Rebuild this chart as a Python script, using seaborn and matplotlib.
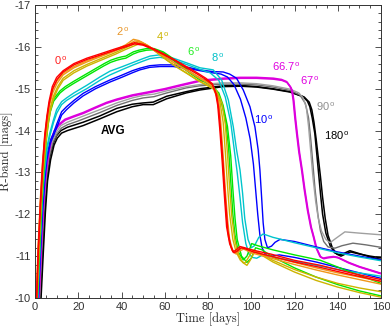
import matplotlib
matplotlib.use("Agg")
import matplotlib.pyplot as plt
import pandas as pd
import seaborn as sns
from matplotlib.ticker import MultipleLocator

# ---------------- data ----------------
red_a_t = [0.7, 1.5, 2.5, 3.5, 4.5, 5.5, 6.5, 8, 10, 13, 18, 24, 30, 37, 42, 46, 50, 55, 60, 65, 70, 75, 79, 82, 83.5, 84.5, 85.5, 86.5, 87.5, 88.6, 90, 91.5, 93, 94.8, 97, 101, 109, 120, 132, 146, 160]
red_a_m = [-10, -11.2, -12.3, -13.2, -13.9, -14.35, -14.7, -15.05, -15.27, -15.43, -15.6, -15.73, -15.83, -15.95, -16.03, -16.1, -16.06, -15.95, -15.82, -15.68, -15.53, -15.38, -15.25, -15.12, -14.9, -14.6, -14.0, -13.3, -12.5, -11.7, -11.3, -11.1, -11.15, -11.23, -11.2, -11.14, -11.05, -10.9, -10.78, -10.6, -10.44]
red_b_t = [0.8, 1.6, 2.6, 3.6, 4.6, 5.6, 6.6, 8.2, 10.2, 13, 18, 24, 30, 37, 42, 46, 50, 55, 60, 65, 70, 75, 79, 82, 84, 85, 86, 87, 88, 89.2, 90.5, 92, 93.5, 95.3, 97.5, 101, 109, 120, 132, 146, 160]
red_b_m = [-10, -11.15, -12.25, -13.15, -13.85, -14.3, -14.65, -15.0, -15.22, -15.4, -15.57, -15.7, -15.8, -15.92, -16.0, -16.07, -16.04, -15.93, -15.8, -15.66, -15.5, -15.35, -15.22, -15.1, -14.85, -14.5, -13.9, -13.2, -12.4, -11.6, -11.25, -11.08, -11.12, -11.2, -11.17, -11.1, -11.0, -10.86, -10.73, -10.56, -10.4]

orange_a_t = [0.6, 1.4, 2.4, 3.4, 4.5, 5.5, 6.5, 8, 10, 13, 18, 24, 30, 37, 42, 45.5, 48, 52, 56, 60, 65, 70, 75, 79, 82, 84.5, 85.5, 86.5, 87.5, 88.5, 89.5, 91, 92.5, 94, 96, 100, 110, 120, 130, 140, 150, 160]
orange_a_m = [-10, -11.2, -12.3, -13.2, -13.85, -14.3, -14.62, -14.95, -15.18, -15.37, -15.53, -15.67, -15.78, -15.92, -16.05, -16.18, -16.15, -16.04, -15.9, -15.77, -15.6, -15.45, -15.3, -15.18, -15.06, -14.75, -14.2, -13.5, -12.7, -11.95, -11.45, -11.15, -11.08, -11.15, -11.2, -11.12, -10.98, -10.85, -10.72, -10.6, -10.5, -10.39]
orange_b_t = [0.7, 1.5, 2.5, 3.5, 4.6, 5.6, 6.6, 8.2, 10.2, 13, 18, 24, 30, 37, 42, 46, 49, 53, 57, 61, 66, 71, 75, 79, 82.5, 85, 86, 87, 88, 89, 90, 91.5, 93, 94.5, 96.5, 100, 110, 120, 130, 140, 150, 160]
orange_b_m = [-10, -11.15, -12.25, -13.15, -13.8, -14.25, -14.58, -14.9, -15.13, -15.33, -15.5, -15.64, -15.76, -15.9, -16.02, -16.14, -16.12, -16.0, -15.87, -15.73, -15.56, -15.41, -15.28, -15.16, -15.04, -14.7, -14.15, -13.4, -12.6, -11.9, -11.4, -11.12, -11.05, -11.12, -11.17, -11.08, -10.94, -10.8, -10.67, -10.55, -10.44, -10.33]

yellow_a_t = [0.9, 1.8, 2.8, 3.8, 5, 6, 7, 8.5, 10.5, 13, 18, 24, 30, 37, 42, 47.8, 51, 55, 60, 65, 70, 74.7, 79, 83, 85.5, 87, 88, 89, 90, 91.5, 93, 95, 97, 98.5, 100.8, 103, 110, 120, 130, 140, 150, 160]
yellow_a_m = [-10, -11.2, -12.3, -13.1, -13.8, -14.22, -14.52, -14.82, -15.05, -15.25, -15.43, -15.58, -15.71, -15.86, -15.98, -16.12, -16.06, -15.92, -15.72, -15.54, -15.38, -15.22, -15.1, -14.98, -14.7, -14.2, -13.5, -12.7, -12.0, -11.4, -11.1, -10.9, -10.83, -10.95, -11.15, -11.1, -10.9, -10.68, -10.5, -10.35, -10.24, -10.15]
yellow_b_t = [1.0, 1.9, 2.9, 3.9, 5.1, 6.1, 7.1, 8.6, 10.6, 13, 18, 24, 30, 37, 42, 48.5, 52, 56, 61, 66, 71, 75.5, 80, 84, 86.5, 88, 89, 90, 91, 92.5, 94, 96, 98, 99.5, 101.5, 104, 110, 120, 130, 140, 150, 160]
yellow_b_m = [-10, -11.15, -12.25, -13.05, -13.75, -14.17, -14.47, -14.77, -15.0, -15.2, -15.38, -15.54, -15.67, -15.82, -15.94, -16.08, -16.02, -15.88, -15.68, -15.5, -15.34, -15.19, -15.07, -14.95, -14.65, -14.15, -13.45, -12.65, -11.95, -11.35, -11.05, -10.85, -10.78, -10.9, -11.1, -11.05, -10.86, -10.62, -10.42, -10.26, -10.13, -10.02]

green_a_t = [1.0, 2, 3, 4, 5, 6, 7, 8.5, 11.6, 14, 17.7, 22, 27, 32, 35, 37.8, 40, 42, 45.5, 48, 51.6, 55, 59.3, 63, 67, 71.7, 76, 80.9, 84, 86, 88, 89.5, 90.5, 91.5, 92.5, 94, 96.3, 98, 100.2, 103, 110, 120, 132, 146, 160]
green_a_m = [-10, -11.2, -12.3, -13.1, -13.75, -14.2, -14.5, -14.75, -14.95, -15.05, -15.17, -15.3, -15.45, -15.6, -15.68, -15.73, -15.76, -15.78, -15.88, -15.92, -15.96, -15.96, -15.88, -15.75, -15.58, -15.4, -15.26, -15.13, -14.95, -14.7, -14.3, -13.6, -12.8, -12.0, -11.5, -11.1, -10.91, -11.0, -11.3, -11.25, -11.15, -11.03, -10.9, -10.62, -10.35]
green_b_t = [1.1, 2.1, 3.1, 4.1, 5.1, 6.1, 7.1, 8.6, 11.6, 14, 17.7, 22, 27, 32, 35, 37.8, 40, 42, 45.5, 48, 51.6, 55, 59.3, 63, 67, 71.7, 76, 80.9, 85, 87, 89, 90.5, 91.5, 92.5, 93.5, 95.5, 98, 100, 102, 105, 110, 120, 130, 140, 150, 160]
green_b_m = [-10, -11.15, -12.25, -13.05, -13.7, -14.15, -14.45, -14.7, -14.9, -15.0, -15.12, -15.25, -15.4, -15.55, -15.63, -15.68, -15.71, -15.73, -15.83, -15.88, -15.92, -15.93, -15.85, -15.72, -15.55, -15.37, -15.22, -15.1, -14.9, -14.6, -14.1, -13.4, -12.6, -11.9, -11.4, -11.0, -10.85, -10.95, -11.2, -11.15, -10.98, -10.72, -10.5, -10.32, -10.17, -10.05]

cyan_a_t = [1.2, 2.2, 3.2, 4.2, 5.5, 6.9, 8.5, 10, 12.3, 14.6, 18, 23.9, 30, 34.7, 40, 45.5, 50, 53.2, 57.8, 63.9, 70, 76.3, 82.4, 86.3, 89.4, 91.7, 93.2, 94.8, 96, 97, 98.5, 100, 101.5, 103.5, 105.5, 110, 120, 130, 140, 150, 160]
cyan_a_m = [-10, -11.2, -12.3, -13.0, -13.6, -13.95, -14.25, -14.5, -14.69, -14.78, -14.9, -15.08, -15.28, -15.42, -15.52, -15.63, -15.72, -15.78, -15.81, -15.73, -15.62, -15.5, -15.45, -15.21, -14.73, -14.09, -13.54, -13.06, -12.5, -11.9, -11.4, -11.2, -11.25, -11.45, -11.53, -11.45, -11.32, -11.2, -11.08, -10.98, -10.89]
cyan_b_t = [1.3, 2.3, 3.3, 4.3, 5.6, 7, 8.6, 10.1, 12.3, 14.6, 18, 23.9, 30, 34.7, 40, 45.5, 50, 53.2, 57.8, 63.9, 70, 76.3, 81, 85, 88, 90.5, 92, 93.5, 94.8, 96, 97.5, 99, 100.5, 102.5, 105, 110, 120, 130, 140, 150, 160]
cyan_b_m = [-10, -11.15, -12.25, -12.95, -13.55, -13.9, -14.2, -14.42, -14.62, -14.72, -14.83, -15.0, -15.2, -15.33, -15.45, -15.57, -15.66, -15.72, -15.75, -15.69, -15.58, -15.46, -15.38, -15.2, -14.8, -14.2, -13.6, -13.0, -12.4, -11.8, -11.3, -11.05, -10.97, -10.95, -11.02, -10.98, -10.88, -10.78, -10.68, -10.6, -10.52]

blue_a_t = [1.5, 2.5, 3.5, 4.5, 5.4, 7, 8.5, 10, 12.3, 14.6, 18, 22.3, 28, 34.7, 40, 45, 48.5, 53, 57.8, 63.9, 70, 76.3, 82, 87, 90, 93.2, 96.3, 99.4, 101.7, 103.2, 104, 104.8, 105.5, 106.3, 107.5, 109.4, 111, 113.3, 120, 130, 140, 150, 160]
blue_a_m = [-10, -11.2, -12.2, -12.9, -13.38, -13.75, -13.93, -14.15, -14.45, -14.57, -14.72, -14.89, -15.05, -15.21, -15.32, -15.43, -15.49, -15.55, -15.57, -15.57, -15.52, -15.45, -15.41, -15.4, -15.35, -15.25, -14.97, -14.57, -14.09, -13.54, -13.06, -12.4, -11.8, -11.4, -11.2, -11.24, -11.33, -11.4, -11.35, -11.22, -11.1, -11.0, -10.91]
blue_b_t = [1.6, 2.6, 3.6, 4.6, 5.5, 7.1, 8.6, 10.1, 12.3, 14.6, 18, 22.3, 28, 34.7, 40, 45, 48.5, 53, 57.8, 63.9, 70, 76.3, 82, 86, 89, 92, 95, 97.5, 99.5, 101, 102, 103, 104, 105, 106.5, 108, 109.5, 113, 120, 130, 140, 150, 160]
blue_b_m = [-10, -11.15, -12.15, -12.85, -13.3, -13.7, -13.88, -14.08, -14.37, -14.5, -14.66, -14.83, -15.0, -15.16, -15.27, -15.38, -15.45, -15.51, -15.53, -15.53, -15.49, -15.43, -15.38, -15.35, -15.28, -15.1, -14.75, -14.3, -13.8, -13.2, -12.6, -12.0, -11.5, -11.2, -11.05, -10.99, -11.0, -11.03, -10.97, -10.86, -10.73, -10.6, -10.47]

mag_a_t = [1.8, 2.8, 3.8, 4.8, 6, 7.5, 9, 11, 13.9, 18, 22.3, 28, 33, 37.8, 45, 53.2, 60, 68, 76.3, 87, 95, 102.5, 110.2, 114, 116.3, 118, 118.7, 119.4, 120.2, 121, 122, 123.3, 124.5, 126, 127.5, 128.7, 130, 131.8, 133.3, 135, 138, 140, 145, 150, 155, 160]
mag_a_m = [-10, -11.2, -12.2, -12.9, -13.4, -13.8, -14.0, -14.15, -14.27, -14.35, -14.43, -14.56, -14.67, -14.75, -14.85, -14.93, -15.0, -15.1, -15.2, -15.25, -15.27, -15.27, -15.25, -15.22, -15.17, -15.05, -14.97, -14.73, -14.3, -13.93, -13.5, -13.06, -12.6, -12.1, -11.7, -11.47, -11.2, -10.99, -10.95, -10.97, -10.99, -10.97, -10.85, -10.75, -10.67, -10.59]
mag_b_t = [1.9, 2.9, 3.9, 4.9, 6.1, 7.6, 9.1, 11.1, 14, 18, 22.3, 28, 33, 37.8, 45, 53.2, 60, 68, 76.3, 87, 95, 102.5, 110.2, 114.2, 116.6, 118.3, 119, 119.7, 120.5, 121.3, 122.3, 123.6, 124.8, 126.3, 127.8, 129, 130.3, 132.1, 133.6, 135.3, 138.3, 140.3, 145, 150, 155, 160]
mag_b_m = [-10, -11.18, -12.18, -12.88, -13.38, -13.78, -13.98, -14.13, -14.25, -14.33, -14.41, -14.54, -14.65, -14.73, -14.83, -14.91, -14.98, -15.08, -15.18, -15.23, -15.25, -15.25, -15.23, -15.2, -15.15, -15.03, -14.95, -14.71, -14.28, -13.91, -13.48, -13.04, -12.58, -12.08, -11.68, -11.45, -11.18, -10.98, -10.94, -10.96, -10.98, -10.96, -10.84, -10.74, -10.66, -10.58]

gray_a_t = [2, 3, 4, 5, 6.3, 8, 10, 12, 15, 20, 25, 30, 37.8, 45, 50, 55, 61, 70, 76.3, 87, 95, 102.5, 110, 117.9, 122, 124, 125.5, 126.5, 127.5, 128.5, 129.8, 131, 132.5, 134.5, 136.4, 139, 143.3, 150, 160]
gray_a_m = [-10, -11.2, -12.2, -12.9, -13.4, -13.75, -13.97, -14.12, -14.2, -14.3, -14.4, -14.5, -14.66, -14.78, -14.84, -14.87, -14.95, -15.05, -15.1, -15.14, -15.14, -15.12, -15.07, -14.99, -14.9, -14.78, -14.55, -14.1, -13.5, -12.9, -12.3, -11.9, -11.6, -11.4, -11.32, -11.42, -11.58, -11.55, -11.51]
gray_b_t = [2.2, 3.2, 4.2, 5.2, 6.5, 8.2, 10.2, 12.2, 15, 20, 25, 30, 37.8, 45, 50, 55, 61, 70, 76.3, 87, 95, 102.5, 110, 117.9, 122.5, 125, 126.5, 127.5, 128.5, 129.5, 130.8, 132, 133.5, 135.5, 138.7, 142, 147, 153, 160]
gray_b_m = [-10, -11.15, -12.15, -12.85, -13.35, -13.7, -13.92, -14.06, -14.14, -14.23, -14.33, -14.43, -14.6, -14.72, -14.78, -14.81, -14.9, -15.02, -15.07, -15.11, -15.11, -15.09, -15.04, -14.96, -14.85, -14.65, -14.3, -13.8, -13.2, -12.6, -12.0, -11.6, -11.35, -11.22, -11.19, -11.25, -11.31, -11.27, -11.21]

black_a_t = [2.5, 3.5, 4.5, 5.5, 6.9, 8.5, 10, 12, 15, 22.3, 30, 37.8, 45, 50, 54.7, 60.9, 70, 76.3, 87, 95, 102.5, 110, 117.9, 124, 126, 127.1, 128.2, 129.4, 130.2, 131, 132, 133, 134.5, 136.5, 138.5, 141, 143, 145.6, 150, 155, 160]
black_a_m = [-10, -11.1, -12.1, -12.85, -13.38, -13.7, -13.88, -14.0, -14.08, -14.2, -14.35, -14.53, -14.63, -14.66, -14.68, -14.82, -14.93, -15.0, -15.07, -15.08, -15.05, -15.0, -14.93, -14.81, -14.7, -14.57, -14.3, -13.93, -13.5, -13.06, -12.5, -12.0, -11.55, -11.25, -11.08, -11.03, -11.07, -11.13, -11.06, -10.98, -10.92]
black_b_t = [2.8, 3.8, 4.8, 5.8, 7.2, 8.8, 10.3, 12.3, 15, 22.3, 30, 37.8, 45, 50, 54.7, 60.9, 70, 76.3, 87, 95, 102.5, 110, 117.9, 124.5, 126.8, 128, 129, 130, 131, 132, 133, 134.2, 135.5, 137.5, 139.5, 141.5, 143.5, 146, 150, 155, 160]
black_b_m = [-10, -11.05, -12.05, -12.8, -13.3, -13.65, -13.82, -13.94, -14.0, -14.12, -14.28, -14.45, -14.57, -14.62, -14.62, -14.76, -14.9, -14.97, -15.05, -15.06, -15.04, -14.99, -14.92, -14.8, -14.68, -14.5, -14.2, -13.8, -13.35, -12.9, -12.4, -11.9, -11.5, -11.2, -11.05, -11.0, -11.05, -11.1, -11.05, -11.0, -10.96]

label_texts = ["0", "2", "4", "6", "8", "10", "66.7", "67", "90", "180"]
label_t = [12.0, 40.7, 59.2, 73.5, 84.6, 105.9, 116.3, 127.0, 134.5, 139.6]
label_m = [-15.66, -16.36, -16.24, -15.88, -15.73, -14.25, -15.53, -15.2, -14.56, -13.87]
label_colors = ["#ff2020", "#e8962a", "#ccb400", "#22ee22", "#00c0c8", "#0000ff",
                "#e000e0", "#e000e0", "#909090", "#000000"]

# ---------------- styling ----------------
sns.set_style("ticks")
plt.rcParams['font.family'] = ['Liberation Sans', 'DejaVu Sans']
plt.rcParams['axes.unicode_minus'] = False
plt.rcParams['mathtext.fontset'] = 'custom'
plt.rcParams['mathtext.rm'] = 'Liberation Sans'
plt.rcParams['mathtext.it'] = 'Liberation Sans'

fig = plt.figure(figsize=(3.9, 3.28), dpi=100)
ax = fig.add_axes([35/390, 1-298/328, (381-35)/390, (298-5)/328])

curves = [
    (black_b_t, black_b_m, "#000000", 1.1),
    (black_a_t, black_a_m, "#000000", 1.1),
    (gray_b_t, gray_b_m, "#6e6e6e", 1.0),
    (gray_a_t, gray_a_m, "#a0a0a0", 1.0),
    (mag_b_t, mag_b_m, "#dd00dd", 1.2),
    (mag_a_t, mag_a_m, "#dd00dd", 1.2),
    (blue_b_t, blue_b_m, "#0000ff", 1.0),
    (blue_a_t, blue_a_m, "#0000ff", 1.0),
    (cyan_b_t, cyan_b_m, "#00c5cd", 1.0),
    (cyan_a_t, cyan_a_m, "#00c5cd", 1.0),
    (green_b_t, green_b_m, "#00e600", 1.0),
    (green_a_t, green_a_m, "#00e600", 1.0),
    (yellow_b_t, yellow_b_m, "#cdb400", 1.0),
    (yellow_a_t, yellow_a_m, "#cdb400", 1.0),
    (orange_b_t, orange_b_m, "#f0961a", 1.0),
    (orange_a_t, orange_a_m, "#f0961a", 1.0),
    (red_b_t, red_b_m, "#ff0000", 1.0),
    (red_a_t, red_a_m, "#ff0000", 1.0),
]
for t, m, c, lw in curves:
    df = pd.DataFrame({"t": t, "m": m})
    sns.lineplot(data=df, x="t", y="m", color=c, lw=lw, ax=ax,
                 sort=False, estimator=None)

for txt, t, m, c in zip(label_texts, label_t, label_m, label_colors):
    ax.text(t, m, txt + r"$^{\,\mathrm{o}}$", color=c, fontsize=8,
            ha="center", va="center")
ax.text(36.1, -13.99, "AVG", fontsize=8.5, fontweight="bold", color="black",
        ha="center", va="center")

ax.set_xlim(0, 160)
ax.set_ylim(-10, -17)
ax.xaxis.set_major_locator(MultipleLocator(20))
ax.xaxis.set_minor_locator(MultipleLocator(5))
ax.yaxis.set_major_locator(MultipleLocator(1))
ax.yaxis.set_minor_locator(MultipleLocator(0.2))
ax.tick_params(which="both", direction="in", top=True, right=True,
               colors="#333333", labelsize=8, width=0.6)
ax.tick_params(which="major", length=4, pad=3)
ax.tick_params(which="minor", length=2)
for s in ax.spines.values():
    s.set_linewidth(0.7)
    s.set_color("#333333")

ax.set_xlabel("Time [days]", family="cmr10", fontsize=9, labelpad=0)
ax.set_ylabel("R-band [mags]", family="cmr10", fontsize=9, labelpad=1)

fig.savefig("out.png", dpi=100)
